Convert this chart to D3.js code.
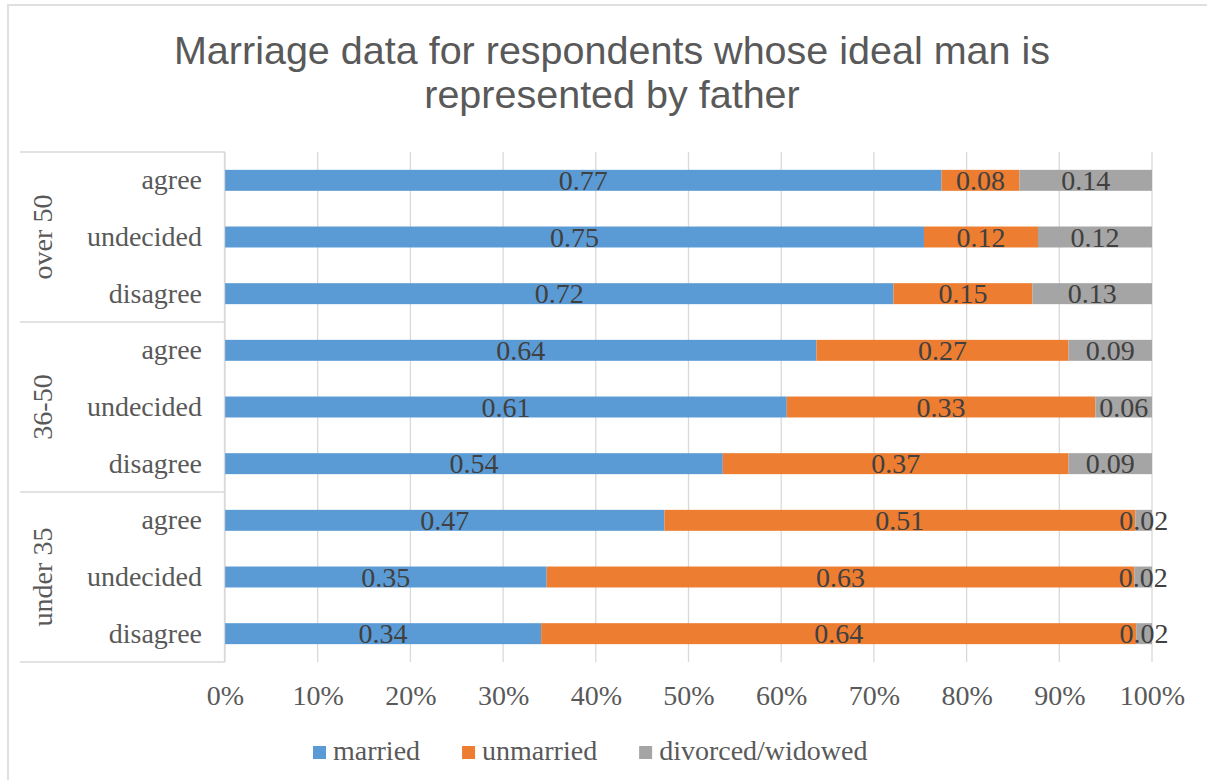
<!DOCTYPE html>
<html>
<head>
<meta charset="utf-8">
<script src="https://cdn.jsdelivr.net/npm/d3@7/dist/d3.min.js"></script>
<style>
  html, body { margin: 0; padding: 0; background: #fff; }
  svg { display: block; }
</style>
</head>
<body>
<script>
// Age groups, answers and marital-status series
const groups = ["over 50", "36-50", "under 35"];
const responses = ["agree", "undecided", "disagree"];
const seriesNames = ["married", "unmarried", "divorced/widowed"];

// Shares per row, ordered: over 50 (agree, undecided, disagree), 36-50 (...), under 35 (...)
const married   = [0.773, 0.754, 0.721, 0.638, 0.606, 0.537, 0.474, 0.347, 0.341];
const unmarried = [0.084, 0.123, 0.150, 0.272, 0.333, 0.373, 0.508, 0.634, 0.642];
const divorced  = [0.143, 0.123, 0.129, 0.090, 0.061, 0.090, 0.018, 0.019, 0.017];

const xTicks = [0, 0.1, 0.2, 0.3, 0.4, 0.5, 0.6, 0.7, 0.8, 0.9, 1.0];
const colors = ["#5B9BD5", "#ED7D31", "#A5A5A5"];

const W = 1207, H = 780;
const plot = { left: 225, right: 1152, top: 152, bottom: 662 };
const serif = "'Liberation Serif', 'Times New Roman', serif";
const sans = "'Liberation Sans', Arial, sans-serif";

const rows = [];
groups.forEach((g, gi) => responses.forEach((r, ri) => {
  const i = gi * 3 + ri;
  rows.push({ key: g + "|" + r, group: g, response: r, values: [married[i], unmarried[i], divorced[i]] });
}));

const svg = d3.select("body").append("svg").attr("width", W).attr("height", H);

// chart frame
svg.append("rect").attr("x", 8).attr("y", 5).attr("width", W + 20).attr("height", H + 20)
  .attr("fill", "none").attr("stroke", "#e0e0e0").attr("stroke-width", 2);

// title
svg.append("text").attr("x", 612).attr("y", 64).attr("text-anchor", "middle")
  .attr("font-family", sans).attr("font-size", 39.5).attr("fill", "#595959")
  .text("Marriage data for respondents whose ideal man is");
svg.append("text").attr("x", 612).attr("y", 108).attr("text-anchor", "middle")
  .attr("font-family", sans).attr("font-size", 39.5).attr("fill", "#595959")
  .text("represented by father");

const x = d3.scaleLinear().domain([0, 1]).range([plot.left, plot.right]);
const y = d3.scaleBand().domain(rows.map(d => d.key)).range([plot.top, plot.bottom])
  .paddingInner(0.63).paddingOuter(0.315);

// vertical gridlines
svg.append("g").selectAll("line").data(xTicks).join("line")
  .attr("x1", d => x(d)).attr("x2", d => x(d))
  .attr("y1", plot.top).attr("y2", plot.bottom)
  .attr("stroke", "#d9d9d9").attr("stroke-width", 1.3);

// x axis labels
const xAxis = d3.axisBottom(x).tickValues(xTicks).tickFormat(d3.format(".0%")).tickSize(0).tickPadding(0);
const gx = svg.append("g").attr("transform", `translate(0,${plot.bottom})`).call(xAxis);
gx.select(".domain").remove();
gx.selectAll("text").attr("font-family", serif).attr("font-size", 28).attr("fill", "#595959")
  .attr("dy", null).attr("y", 43);

// stacked bars
const stack = rows.map(r => {
  let acc = 0;
  const total = d3.sum(r.values);
  return r.values.map((v, si) => {
    const s = { row: r, si, v, x0: acc / total, x1: (acc + v) / total };
    acc += v;
    return s;
  });
});
const seg = svg.append("g").selectAll("g").data(stack).join("g");
seg.selectAll("rect").data(d => d).join("rect")
  .attr("x", d => x(d.x0)).attr("width", d => x(d.x1) - x(d.x0))
  .attr("y", d => y(d.row.key)).attr("height", y.bandwidth())
  .attr("fill", d => colors[d.si]);

// value labels
seg.selectAll("text").data(d => d).join("text")
  .attr("x", d => (x(d.x0) + x(d.x1)) / 2)
  .attr("y", d => y(d.row.key) + y.bandwidth() / 2 + 9.5)
  .attr("text-anchor", "middle")
  .attr("font-family", serif).attr("font-size", 28).attr("fill", "#404040")
  .text(d => d3.format(".2f")(d.v));

// category axis: line, group separators, labels
svg.append("line").attr("x1", plot.left - 0.5).attr("x2", plot.left - 0.5)
  .attr("y1", plot.top).attr("y2", plot.bottom).attr("stroke", "#d9d9d9").attr("stroke-width", 1.3);

const groupEdges = [0, 3, 6, 9].map(i => i === 9 ? plot.bottom : y(rows[i].key) - y.step() * y.paddingOuter());
svg.append("g").selectAll("line").data(groupEdges).join("line")
  .attr("x1", 20).attr("x2", plot.left).attr("y1", d => d).attr("y2", d => d)
  .attr("stroke", "#d9d9d9").attr("stroke-width", 1.3);

svg.append("g").selectAll("text").data(rows).join("text")
  .attr("x", 202).attr("y", d => y(d.key) + y.bandwidth() / 2 + 9)
  .attr("text-anchor", "end")
  .attr("font-family", serif).attr("font-size", 28).attr("fill", "#595959")
  .text(d => d.response);

svg.append("g").selectAll("text").data(groups).join("text")
  .attr("transform", (g, gi) => `translate(52,${(groupEdges[gi] + groupEdges[gi + 1]) / 2}) rotate(-90)`)
  .attr("text-anchor", "middle")
  .attr("font-family", serif).attr("font-size", 28).attr("fill", "#595959")
  .text(d => d);

// legend
const legend = svg.append("g");
let lx = 313;
seriesNames.forEach((name, i) => {
  const item = legend.append("g").attr("transform", `translate(${lx},0)`);
  item.append("rect").attr("x", 0).attr("y", 746).attr("width", 13).attr("height", 13).attr("fill", colors[i]);
  const t = item.append("text").attr("x", 20).attr("y", 760)
    .attr("font-family", serif).attr("font-size", 28).attr("fill", "#595959").text(name);
  lx += 20 + t.node().getComputedTextLength() + 42;
});
</script>
</body>
</html>
